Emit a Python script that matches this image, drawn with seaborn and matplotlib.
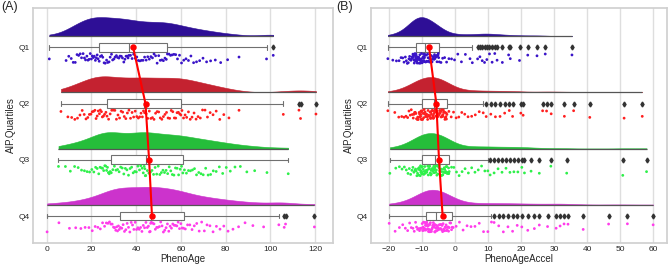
import numpy as np
import pandas as pd
import matplotlib
matplotlib.use("Agg")
import matplotlib.pyplot as plt
import matplotlib.patches as mpatches
import seaborn as sns

quartiles = ["Q1", "Q2", "Q3", "Q4"]
violin_colors = ["#2E0F96", "#C42230", "#25BE3A", "#CC33CC"]
dot_colors = ["#3A14C8", "#FF1F1F", "#2EF04A", "#FF3CEB"]

# PhenoAge per AIP quartile
a_q1 = [1.2, 8.7, 9.9, 11.0, 11.9, 12.8, 13.6, 14.3, 15.0, 15.6, 16.3, 16.9, 17.4, 18.0, 18.5,
        19.0, 19.5, 20.0, 20.4, 20.9, 21.3, 21.8, 22.2, 22.6, 23.0,
        23.5, 24.0, 24.6, 25.1, 25.7, 26.2, 26.8, 27.3, 27.9, 28.4, 29.0, 29.5, 30.1, 30.6, 31.2,
        31.7, 32.3, 32.8, 33.4, 33.9, 34.5, 35.0, 35.5, 36.0, 36.4,
        36.8, 37.5, 38.2, 38.9, 39.6, 40.3, 41.0, 41.7, 42.4, 43.1, 43.8, 44.5, 45.2, 45.9, 46.6,
        47.3, 48.0, 48.7, 49.4, 50.1, 50.8, 51.5, 52.2, 52.9, 53.5,
        54.0, 54.7, 55.4, 56.1, 56.9, 57.7, 58.5, 59.4, 60.3, 61.3, 62.3, 63.4, 64.5, 65.7, 67.0,
        68.4, 69.9, 71.5, 73.3, 75.4, 77.8, 80.9, 86.0, 98.3, 101.3]
a_q2 = [6.4, 9.5, 11.2, 12.6, 13.8, 14.9, 15.9, 16.8, 17.6, 18.4, 19.1, 19.8, 20.4, 21.0, 21.6,
        22.1, 22.6, 23.1, 23.6, 24.0, 24.5, 24.9, 25.4, 25.9, 26.5,
        27.0, 27.7, 28.4, 29.1, 29.8, 30.5, 31.2, 31.9, 32.6, 33.3, 34.0, 34.7, 35.4, 36.1, 36.8,
        37.5, 38.2, 38.9, 39.6, 40.3, 41.0, 41.6, 42.2, 42.8, 43.3,
        43.8, 44.5, 45.2, 45.9, 46.6, 47.3, 48.0, 48.7, 49.4, 50.1, 50.8, 51.5, 52.2, 52.9, 53.6,
        54.3, 55.0, 55.7, 56.4, 57.1, 57.7, 58.3, 58.9, 59.5, 60.0,
        60.5, 61.2, 61.9, 62.6, 63.4, 64.2, 65.0, 65.9, 66.8, 67.7, 68.7, 69.7, 70.8, 71.9, 73.1,
        74.4, 75.8, 77.4, 79.2, 81.5, 86.0, 105.8, 112.8, 113.5, 120.4]
a_q3 = [5.3, 8.4, 10.6, 12.5, 14.1, 15.6, 16.9, 18.1, 19.2, 20.2, 21.1, 21.9, 22.6, 23.3, 23.9,
        24.5, 25.0, 25.5, 26.0, 26.4, 26.8, 27.2, 27.6, 28.0, 28.4,
        28.9, 29.6, 30.3, 31.0, 31.7, 32.4, 33.1, 33.8, 34.5, 35.2, 35.9, 36.6, 37.3, 38.0, 38.7,
        39.4, 40.1, 40.8, 41.5, 42.1, 42.7, 43.2, 43.6, 43.9, 44.1,
        44.3, 45.0, 45.7, 46.4, 47.1, 47.8, 48.5, 49.2, 49.9, 50.6, 51.3, 52.0, 52.7, 53.4, 54.1,
        54.8, 55.5, 56.2, 56.9, 57.6, 58.3, 59.0, 59.7, 60.3, 60.9,
        61.6, 62.5, 63.4, 64.3, 65.2, 66.1, 67.0, 68.0, 69.0, 70.0, 71.1, 72.2, 73.3, 74.5, 75.8,
        77.2, 78.7, 80.3, 82.1, 84.2, 86.6, 89.5, 93.0, 98.5, 108.0]
a_q4 = [0.2, 5.5, 10.2, 13.0, 15.3, 17.2, 18.9, 20.4, 21.7, 22.9, 24.0, 25.0, 25.9, 26.7, 27.4,
        28.1, 28.7, 29.3, 29.9, 30.4, 30.9, 31.3, 31.7, 32.1, 32.5,
        33.0, 33.6, 34.2, 34.8, 35.4, 36.0, 36.6, 37.2, 37.8, 38.4, 39.0, 39.6, 40.2, 40.8, 41.4,
        42.0, 42.6, 43.2, 43.8, 44.4, 45.0, 45.5, 46.0, 46.3, 46.5,
        46.8, 47.4, 48.0, 48.6, 49.2, 49.8, 50.4, 51.0, 51.6, 52.2, 52.8, 53.4, 54.0, 54.6, 55.2,
        55.8, 56.4, 57.0, 57.6, 58.2, 58.8, 59.4, 60.0, 60.6, 61.2,
        62.0, 63.0, 64.0, 65.0, 66.0, 67.1, 68.2, 69.3, 70.5, 71.7, 73.0, 74.4, 75.9, 77.5, 79.2,
        81.1, 83.3, 85.8, 88.7, 92.2, 97.0, 103.8, 106.2, 106.8, 119.7]

# PhenoAgeAccel per AIP quartile
b_q1 = [-20.4, -18.9, -17.8, -17.0, -16.4, -15.9, -15.5, -15.1, -14.8, -14.5, -14.2, -14.0,
        -13.8, -13.6, -13.4, -13.2, -13.0, -12.9, -12.8, -12.7, -12.6, -12.5, -12.4, -12.3,
        -12.2, -12.1, -12.0, -11.95, -11.9, -11.85,
        -11.8, -11.7, -11.6, -11.5, -11.4, -11.3, -11.2, -11.1, -11.0, -10.9, -10.8, -10.7,
        -10.6, -10.5, -10.4, -10.3, -10.2, -10.1, -10.0, -9.9, -9.8, -9.7, -9.6, -9.55, -9.5,
        -9.45, -9.4, -9.35, -9.3, -9.25,
        -9.1, -8.95, -8.8, -8.65, -8.5, -8.35, -8.2, -8.05, -7.9, -7.75, -7.6, -7.45, -7.3,
        -7.15, -7.0, -6.85, -6.7, -6.55, -6.4, -6.25, -6.1, -5.95, -5.8, -5.65, -5.5, -5.4,
        -5.3, -5.2, -5.1, -5.0,
        -4.8, -4.3, -3.8, -3.2, -2.6, -1.9, -1.1, -0.2, 0.8, 1.9, 3.1, 4.5, 5.2,
        6.8, 7.5, 8.2, 8.9, 9.6, 10.4, 11.2, 12.0, 12.7, 14.3, 16.2, 16.7, 19.5, 22.0, 24.8,
        27.3, 35.4]
b_q2 = [-20.4, -18.3, -17.1, -16.2, -15.5, -14.9, -14.4, -14.0, -13.6, -13.3, -13.0, -12.7,
        -12.5, -12.3, -12.1, -11.9, -11.7, -11.5, -11.35, -11.2, -11.05, -10.9, -10.8, -10.7,
        -10.6, -10.5, -10.4, -10.35, -10.3, -10.25,
        -10.15, -10.0, -9.85, -9.7, -9.55, -9.4, -9.25, -9.1, -8.95, -8.8, -8.65, -8.5, -8.35,
        -8.2, -8.05, -7.9, -7.75, -7.6, -7.5, -7.4, -7.3, -7.2, -7.1, -7.0, -6.9, -6.8, -6.7,
        -6.6, -6.5, -6.45,
        -6.35, -6.2, -6.05, -5.9, -5.75, -5.6, -5.45, -5.3, -5.15, -5.0, -4.85, -4.7, -4.55,
        -4.4, -4.25, -4.1, -3.95, -3.8, -3.7, -3.6, -3.5, -3.4, -3.3, -3.2, -3.1, -3.0, -2.9,
        -2.8, -2.7, -2.65,
        -2.5, -1.9, -1.2, -0.5, 0.3, 1.1, 2.0, 2.9, 3.9, 5.0, 6.1, 7.3, 8.5,
        9.4, 10.8, 12.2, 13.6, 15.0, 16.4, 17.4, 19.9, 20.6, 26.5, 27.7, 29.1, 33.1, 35.9,
        40.8, 51.2, 56.7]
b_q3 = [-19.8, -18.0, -16.9, -16.1, -15.4, -14.8, -14.3, -13.9, -13.5, -13.1, -12.8, -12.5,
        -12.2, -12.0, -11.8, -11.6, -11.4, -11.2, -11.05, -10.9, -10.8, -10.7, -10.6, -10.5,
        -10.4, -10.3, -10.2, -10.15, -10.1, -10.05,
        -9.95, -9.8, -9.65, -9.5, -9.35, -9.2, -9.05, -8.9, -8.75, -8.6, -8.45, -8.3, -8.15,
        -8.0, -7.85, -7.7, -7.55, -7.4, -7.3, -7.2, -7.1, -7.0, -6.9, -6.8, -6.7, -6.6, -6.5,
        -6.4, -6.3, -6.25,
        -6.15, -6.0, -5.85, -5.7, -5.55, -5.4, -5.25, -5.1, -4.95, -4.8, -4.65, -4.5, -4.35,
        -4.2, -4.05, -3.9, -3.75, -3.6, -3.45, -3.3, -3.15, -3.0, -2.85, -2.7, -2.55, -2.4,
        -2.25, -2.1, -2.0, -1.95,
        -1.8, -1.1, -0.4, 0.4, 1.2, 2.1, 3.0, 4.0, 5.0, 6.0, 7.0, 8.0, 9.0, 9.9,
        10.6, 11.8, 13.0, 14.2, 15.4, 16.6, 17.8, 19.0, 20.2, 21.0, 23.0, 25.5, 29.0, 33.8,
        50.8, 58.0]
b_q4 = [-20.0, -18.2, -16.9, -15.9, -15.1, -14.4, -13.8, -13.3, -12.8, -12.4, -12.0, -11.7,
        -11.4, -11.1, -10.8, -10.6, -10.4, -10.2, -10.0, -9.85, -9.7, -9.6, -9.5, -9.4, -9.3,
        -9.2, -9.1, -9.0, -8.95, -8.9,
        -8.85, -8.7, -8.6, -8.5, -8.4, -8.3, -8.2, -8.1, -8.0, -7.9, -7.8, -7.7, -7.6, -7.5,
        -7.35, -7.2, -7.05, -6.9, -6.8, -6.7, -6.6, -6.5, -6.4, -6.3, -6.2, -6.1, -6.0, -5.9,
        -5.8, -5.75,
        -5.6, -5.45, -5.3, -5.15, -5.0, -4.85, -4.7, -4.55, -4.4, -4.25, -4.1, -3.95, -3.8,
        -3.65, -3.5, -3.35, -3.2, -3.05, -2.9, -2.75, -2.6, -2.45, -2.3, -2.15, -2.0, -1.8,
        -1.6, -1.35, -1.1, -0.9,
        -0.6, 0.3, 1.3, 2.4, 3.6, 4.8, 6.0, 7.3, 8.6, 9.9, 11.0,
        11.8, 13.2, 14.6, 16.0, 17.4, 18.8, 20.2, 22.0, 24.0, 25.5, 28.0, 30.6, 31.8, 33.0,
        34.2, 38.8, 46.5, 52.2, 60.0]

# group means (red line)
mean_a = [38.7, 44.2, 45.8, 47.1]
mean_b = [-7.9, -5.7, -4.9, -3.8]


def raincloud(ax, groups, means, xname, xticks, xlim):
    pos = np.repeat(np.arange(len(quartiles)), [len(g) for g in groups])
    df = pd.DataFrame({
        "AIP.Quartiles": np.repeat(quartiles, [len(g) for g in groups]),
        "pos": pos,
        "cloud": pos - 0.2,
        "rain": pos + 0.195,
        xname: np.concatenate(groups),
    })

    # violins, clipped to their upper half
    n = len(ax.collections)
    sns.violinplot(data=df, x=xname, y="cloud", orient="y", native_scale=True,
                   inner=None, cut=0, bw_method=0.25, width=0.68, color="gray",
                   linewidth=0, ax=ax)
    for i, (poly, c) in enumerate(zip(ax.collections[n:], violin_colors)):
        poly.set_facecolor(c)
        poly.set_edgecolor(c)
        poly.set_linewidth(0.4)
        poly.set_alpha(1)
        clip = mpatches.Rectangle((-1e4, i - 1.2), 2e4, 1.0, transform=ax.transData)
        poly.set_clip_path(clip)

    # flat side of each cloud, over the full data range
    ax.hlines(np.arange(len(groups)) - 0.2, [min(g) for g in groups],
              [max(g) for g in groups], color="#555555", linewidth=0.9, zorder=3)

    # rain below the boxes
    sns.stripplot(data=df, x=xname, y="rain", orient="y", native_scale=True,
                  hue="AIP.Quartiles", palette=dot_colors, jitter=0.09, size=2.0,
                  linewidth=0, legend=False, ax=ax)

    # boxes
    sns.boxplot(data=df, x=xname, y="pos", orient="y", native_scale=True,
                width=0.155, color="white", linecolor="#707070", linewidth=0.8,
                fliersize=2.5,
                flierprops=dict(marker="d", markerfacecolor="#333333",
                                markeredgecolor="#333333"), ax=ax)

    # means
    n = len(ax.lines)
    sns.pointplot(x=means, y=np.arange(len(quartiles)), orient="y", native_scale=True,
                  color="#FF0000", markers="o", markersize=3.5, linewidth=1.5,
                  errorbar=None, ax=ax)
    for ln in ax.lines[n:]:
        ln.set_zorder(6)

    ax.set_yticks(range(len(quartiles)), quartiles)
    ax.yaxis.grid(False)
    ax.set_ylim(3.48, -0.70)
    ax.set_xlim(*xlim)
    ax.set_xticks(xticks)
    ax.set_xlabel(xname, fontsize=7, labelpad=1)
    ax.set_ylabel("AIP.Quartiles", fontsize=7, labelpad=2)
    ax.tick_params(length=0, labelsize=6, pad=2)


sns.set_theme(style="whitegrid", rc={"grid.color": "#DEDEDE", "axes.edgecolor": "#D0D0D0"})
plt.rcParams["font.family"] = ["Liberation Sans", "DejaVu Sans"]
np.random.seed(3)

fig = plt.figure(figsize=(6.69, 2.70), dpi=100)
ax1 = fig.add_axes([0.0493, 0.10, 0.4484, 0.870])
ax2 = fig.add_axes([0.5546, 0.10, 0.4424, 0.870])

raincloud(ax1, [a_q1, a_q2, a_q3, a_q4], mean_a, "PhenoAge",
          [0, 20, 40, 60, 80, 100, 120], (-6.1, 128))
raincloud(ax2, [b_q1, b_q2, b_q3, b_q4], mean_b, "PhenoAgeAccel",
          [-20, -10, 0, 10, 20, 30, 40, 50, 60], (-25.5, 64.2))

fig.text(0.002, 0.995, "(A)", fontsize=9, va="top")
fig.text(0.503, 0.995, "(B)", fontsize=9, va="top")

fig.savefig("out.png", dpi=100)
